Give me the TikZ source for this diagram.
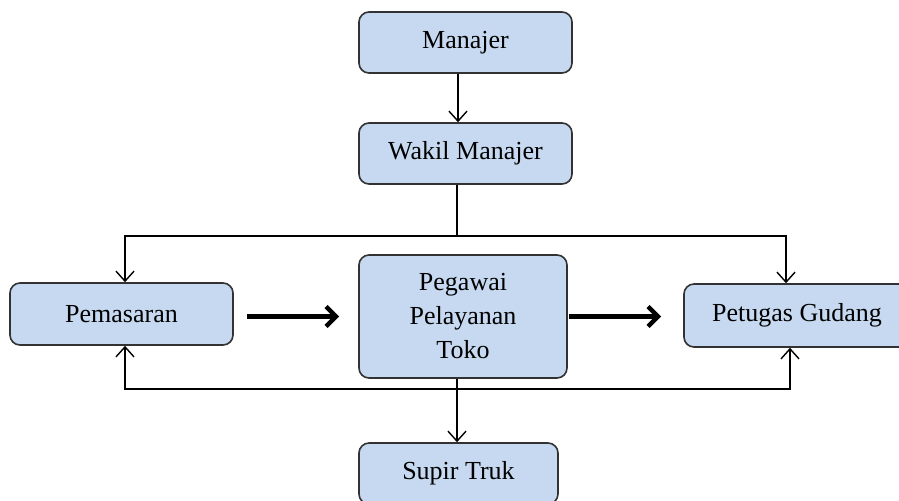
\documentclass[tikz,border=0pt]{standalone}
\usepackage{fontspec}
\setmainfont{Liberation Serif}
\usetikzlibrary{arrows.meta}
\definecolor{boxblue}{RGB}{198,217,240}
\definecolor{boxline}{RGB}{50,50,50}
\newcommand{\busAtas}{236}
\newcommand{\busBawah}{389}

\begin{document}
\begin{tikzpicture}[x=0.5pt, y=-0.5pt,
	jabatan/.style={draw=boxline, fill=boxblue, line width=0.8pt, rounded corners=5pt, align=center, inner sep=0pt, font=\fontsize{13}{17}\selectfont},
	garis/.style={line width=0.7pt, -{Straight Barb[length=5pt,width=9pt]}},
	tebal/.style={line width=2.2pt, -{Straight Barb[length=5pt,width=10pt]}}]

		\useasboundingbox (0,0) rectangle (899,500);

		% Pimpinan
		\node[jabatan, minimum width=106.5pt, minimum height=30.5pt] (manajer) at (465.5, 42.5) {Manajer};
		\node[jabatan, minimum width=106.5pt, minimum height=30.5pt] (wakil) at (465.5, 153.5) {Wakil Manajer};
		% Staf
		\node[jabatan, minimum width=111.5pt, minimum height=31pt] (pemasaran) at (121.5, 314) {Pemasaran};
		\node[jabatan, minimum width=104pt, minimum height=61.5pt] (pegawai) at (463, 316.5) {Pegawai\\Pelayanan\\Toko};
		\node[jabatan, minimum width=113pt, minimum height=31.5pt] (gudang) at (797, 315.5) {Petugas Gudang};
		\node[jabatan, minimum width=99.5pt, minimum height=30.5pt] (supir) at (458.5, 473.5) {Supir Truk};

		\coordinate (atas) at (457, \busAtas);
		\coordinate (bawah) at (457, \busBawah);

		% Garis komando
		\draw[garis] ([xshift=-3.75pt]manajer.south) -- ([xshift=-3.75pt]wakil.north);
		\draw[line width=0.7pt] ([xshift=-4.25pt]wakil.south) -- (atas);
		\draw[garis] (atas) -| ([xshift=1.75pt]pemasaran.north);
		\draw[garis] (atas) -| ([xshift=-5.5pt]gudang.north);
		% Garis bawah
		\draw[line width=0.7pt] ([xshift=-3pt]pegawai.south) -- (bawah);
		\draw[garis] (bawah) -- (bawah |- supir.north);
		\draw[garis] (bawah) -| ([xshift=1.75pt]pemasaran.south);
		\draw[garis] (bawah) -| ([xshift=-3.5pt]gudang.south);
		% Alur
		\draw[tebal] ([xshift=6.5pt]pemasaran.east |- pegawai.center) -- ([xshift=-9.5pt]pegawai.west);
		\draw[tebal] ([xshift=0.5pt]pegawai.east) -- ([xshift=-11pt]gudang.west |- pegawai.center);
	\end{tikzpicture}
\end{document}
